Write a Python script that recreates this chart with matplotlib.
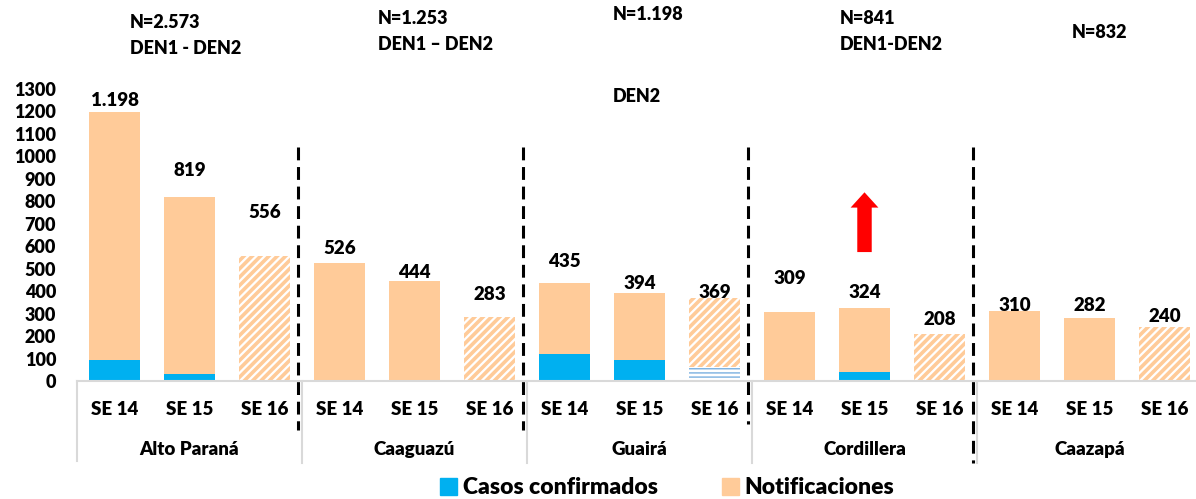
import matplotlib
matplotlib.use('Agg')
import matplotlib.pyplot as plt
from matplotlib.patches import Patch

plt.rcParams['font.family'] = ['Lato', 'DejaVu Sans']
plt.rcParams['font.weight'] = 'heavy'
plt.rcParams['hatch.linewidth'] = 2.6

# datos
departamentos = ['Alto Paraná', 'Caaguazú', 'Guairá', 'Cordillera', 'Caazapá']
semanas = ['SE 14', 'SE 15', 'SE 16']
totales = [1198, 819, 556, 526, 444, 283, 435, 394, 369, 309, 324, 208, 310, 282, 240]
confirmados = [95, 31, 5, 4, 4, 0, 120, 93, 62, 5, 40, 5, 0, 0, 0]
notificaciones = [t - c for t, c in zip(totales, confirmados)]
encabezados = [['N=2.573', 'DEN1 - DEN2'], ['N=1.253', 'DEN1 – DEN2'],
               ['N=1.198', 'DEN2'], ['N=841', 'DEN1-DEN2'], ['N=832']]

# estilos / posiciones
azul = '#00B0F0'
azul_claro = '#7AB0E0'
durazno = '#FFCB99'
desplaz_etiq = [53, 120, 196, 66, 41, 104, 95, 38, 27, 149, 72, 68, 28, 52, 45]
pos_encab = [[(130, 22), (130, 48)], [(378, 18), (378, 44)],
             [(613, 15), (613, 97)], [(840, 18), (840, 44)], [(1072, 33)]]
peso = 'heavy'

W, H = 1196, 499
fig = plt.figure(figsize=(W / 100, H / 100), dpi=100)
ax = fig.add_axes([77 / W, 118 / H, 1125 / W, 292 / H])

x = list(range(len(totales)))
ancho = 0.67
for i in x:
    proyectado = (i % 3 == 2)
    if proyectado:
        with plt.rc_context({'hatch.linewidth': 1.0}):
            ax.bar(i, confirmados[i], ancho, color='white',
                   edgecolor=azul_claro if i != 2 else azul, hatch='----', linewidth=0)
        ax.bar(i, notificaciones[i], ancho, bottom=confirmados[i], color='white',
               edgecolor=durazno, hatch='////', linewidth=0)
    else:
        ax.bar(i, confirmados[i], ancho, color=azul, linewidth=0)
        ax.bar(i, notificaciones[i], ancho, bottom=confirmados[i], color=durazno, linewidth=0)
    etiqueta = f'{totales[i]:,}'.replace(',', '.')
    ax.text(i, totales[i] + desplaz_etiq[i], etiqueta, ha='center', va='center',
            fontsize=13.5, fontweight=peso)

ax.set_xlim(-0.5, 14.5)
ax.set_ylim(0, 1300)
ax.set_yticks(range(0, 1301, 100))
ax.tick_params(axis='y', length=0, pad=15, labelsize=13)
for lab in ax.get_yticklabels():
    lab.set_fontweight(peso)
ax.set_xticks([])
for s in ax.spines.values():
    s.set_visible(False)

# eje de categorias
gris = '#D9D9D9'
ax.axhline(0, color=gris, lw=1.5, clip_on=False, xmax=1.0)
for k in range(5):
    x0 = k * 3 - 0.5
    ax.plot([x0, x0], [0, -365 if k else -355], color=gris, lw=1.5, clip_on=False)
    for j, se in enumerate(semanas):
        ax.text(k * 3 + j, -125, se, ha='center', va='center', fontsize=13.5, fontweight=peso)
    ax.text(k * 3 + 1, -307, departamentos[k], ha='center', va='center', fontsize=13.5,
            fontweight=peso)

# lineas divisorias punteadas
fondo_div = [-218, -218, -190, -365]
for k in range(4):
    xd = k * 3 + 2.45
    ax.plot([xd, xd], [1040, fondo_div[k]], color='black', lw=2.2,
            linestyle=(0, (4.2, 2.2)), clip_on=False)

# flecha
ax.annotate('', xy=(10, 840), xytext=(10, 574),
            arrowprops=dict(arrowstyle='simple,head_length=0.55,head_width=1.0,tail_width=0.52',
                            mutation_scale=20, color='red', shrinkA=0, shrinkB=0, lw=0))

# encabezados
for lineas, posiciones in zip(encabezados, pos_encab):
    for texto, (px, py) in zip(lineas, posiciones):
        fig.text(px / W, 1 - py / H, texto, ha='left', va='center', fontsize=13,
                 fontweight=peso)

# leyenda
handles = [Patch(color=azul, label='Casos confirmados'),
           Patch(color=durazno, label='Notificaciones')]
fig.legend(handles=handles, loc='center', bbox_to_anchor=(667 / W, 1 - 488 / H), ncol=2,
           frameon=False, handlelength=0.75, handleheight=0.75, handletextpad=0.25,
           columnspacing=2.8, prop={'size': 16.5, 'weight': peso})

fig.savefig('out.png', dpi=100)
